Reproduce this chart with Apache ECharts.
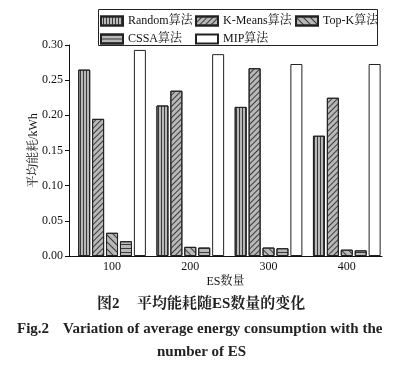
<!DOCTYPE html>
<html>
<head>
<meta charset="utf-8">
<script src="https://cdn.jsdelivr.net/npm/echarts@6/dist/echarts.min.js"></script>
<style>
html,body{margin:0;padding:0;background:#fff;}
#c{width:415px;height:368px;}
</style>
</head>
<body>
<div id="c"></div>
<script>
// ---- data ----
var esCounts = [100, 200, 300, 400];
var seriesNames = ['Random算法', 'K-Means算法', 'Top-K算法', 'CSSA算法', 'MIP算法'];
var randomVals = [0.265, 0.214, 0.212, 0.171];
var kmeansVals = [0.195, 0.235, 0.267, 0.225];
var topkVals = [0.033, 0.013, 0.012, 0.009];
var cssaVals = [0.021, 0.012, 0.011, 0.008];
var mipVals = [0.293, 0.287, 0.273, 0.273];
var yTicks = [0, 0.05, 0.10, 0.15, 0.20, 0.25, 0.30];

var SERIF = "'Liberation Serif','Noto Serif CJK SC','Noto Sans CJK SC',serif";
var valueLists = [randomVals, kmeansVals, topkVals, cssaVals, mipVals];
var fills = ['#b8b8b8', '#b8b8b8', '#b8b8b8', '#b8b8b8', '#ffffff'];
var decals = [
  {symbol:'rect', symbolSize:1, dashArrayX:[1,0], dashArrayY:[1,2], rotation:Math.PI/2, color:'#3a3a3a'},
  {symbol:'rect', symbolSize:1, dashArrayX:[1,0], dashArrayY:[1,2.5], rotation:-Math.PI/4, color:'#3a3a3a'},
  {symbol:'rect', symbolSize:1, dashArrayX:[1,0], dashArrayY:[1,3.5], rotation:Math.PI/4, color:'#3a3a3a'},
  {symbol:'rect', symbolSize:1, dashArrayX:[1,0], dashArrayY:[1,3], rotation:0, color:'#3a3a3a'},
  null
];

var series = seriesNames.map(function (name, i) {
  var s = {
    name: name,
    type: 'bar',
    barWidth: 12,
    barGap: '16%',
    data: esCounts.map(function (c, j) { return [c, valueLists[i][j]]; }),
    itemStyle: {color: fills[i], borderColor: '#222', borderWidth: 1}
  };
  if (decals[i]) s.itemStyle.decal = decals[i];
  return s;
});

var legendPos = [[100, 15], [195, 15], [295, 15], [100, 33], [195, 33]];
var legends = seriesNames.map(function (name, i) {
  return {
    data: [name],
    left: legendPos[i][0],
    top: legendPos[i][1],
    itemWidth: 22,
    itemHeight: 9,
    padding: 0,
    icon: 'rect',
    selectedMode: false,
    textStyle: {fontFamily: SERIF, fontSize: 12, color: '#111'}
  };
});

var chart = echarts.init(document.getElementById('c'), null, {renderer: 'canvas'});
chart.setOption({
  animation: false,
  backgroundColor: '#fff',
  legend: legends,
  grid: {left: 69, right: 33, top: 45, bottom: 112, containLabel: false},
  xAxis: {
    type: 'value',
    min: 45,
    max: 445,
    name: 'ES数量',
    nameLocation: 'middle',
    nameGap: 20,
    nameMoveOverlap: false,
    nameTextStyle: {fontFamily: SERIF, fontSize: 12, color: '#111'},
    axisLine: {lineStyle: {color: '#111', width: 1}},
    axisTick: {show: false},
    splitLine: {show: false},
    axisLabel: {customValues: esCounts, margin: 5, fontFamily: SERIF, fontSize: 12, color: '#111'}
  },
  yAxis: {
    type: 'value',
    min: 0,
    max: 0.3,
    interval: 0.05,
    name: '平均能耗/kWh',
    nameLocation: 'middle',
    nameGap: 29,
    nameMoveOverlap: false,
    nameTextStyle: {fontFamily: SERIF, fontSize: 12, color: '#111'},
    axisLine: {show: true, lineStyle: {color: '#111', width: 1}},
    axisTick: {show: true, length: 4, inside: false, lineStyle: {color: '#111'}},
    splitLine: {show: false},
    axisLabel: {margin: 6, fontFamily: SERIF, fontSize: 12, color: '#111',
      formatter: function (v) { return v.toFixed(2); }}
  },
  graphic: [
    {type: 'rect', shape: {x: 98.5, y: 9.5, width: 279, height: 36}, style: {fill: 'none', stroke: '#222', lineWidth: 1}, z: -1},
    {type: 'text', left: 97, top: 297, style: {text: '图2', font: "bold 15px " + SERIF, fill: '#222'}},
    {type: 'text', left: 137, top: 297, style: {text: '平均能耗随ES数量的变化', font: "bold 15px " + SERIF, fill: '#222'}},
    {type: 'text', left: 17, top: 322, style: {text: 'Fig.2', font: "bold 15px " + SERIF, fill: '#222'}},
    {type: 'text', left: 63, top: 322, style: {text: 'Variation of average energy consumption with the', font: "bold 15px " + SERIF, fill: '#222'}},
    {type: 'text', left: 157, top: 345, style: {text: 'number of ES', font: "bold 15px " + SERIF, fill: '#222'}}
  ],
  series: series
});
</script>
</body>
</html>
